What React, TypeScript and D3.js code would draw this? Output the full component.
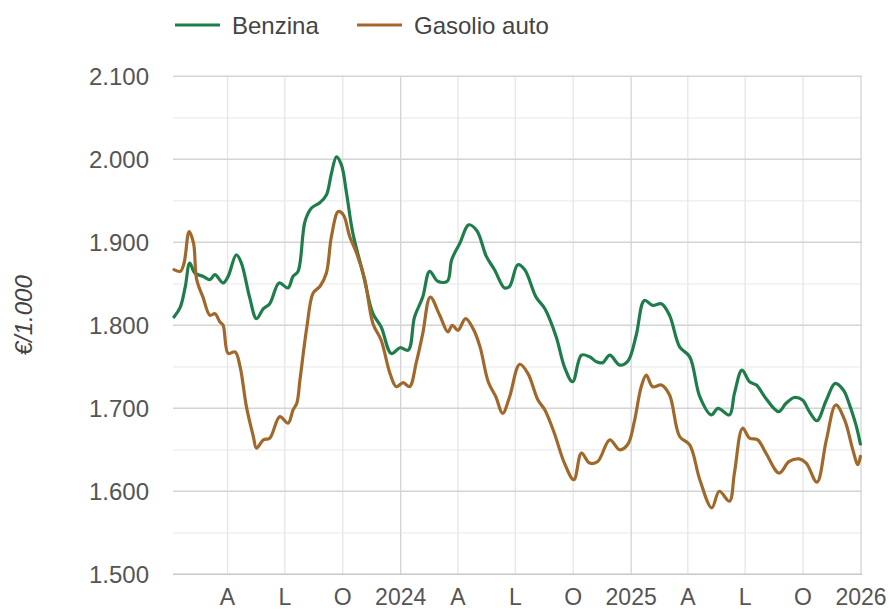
import React from "react";
import * as d3 from "d3";

const benzinaDates = [
  "2023-01-06","2023-01-16","2023-01-24","2023-01-31","2023-02-08","2023-02-21","2023-03-04","2023-03-12","2023-03-25","2023-04-02",
  "2023-04-15","2023-04-23","2023-05-06","2023-05-17","2023-05-28","2023-06-07","2023-06-22","2023-07-06","2023-07-14","2023-07-22",
  "2023-08-02","2023-08-12","2023-08-26","2023-09-05","2023-09-13","2023-09-21","2023-09-29","2023-10-07","2023-10-17","2023-11-02",
  "2023-11-18","2023-12-01","2023-12-17","2023-12-31","2024-01-13","2024-01-23","2024-02-05","2024-02-16","2024-02-29","2024-03-15",
  "2024-03-22","2024-04-04","2024-04-18","2024-05-01","2024-05-16","2024-05-29","2024-06-14","2024-06-22","2024-07-05","2024-07-16",
  "2024-08-03","2024-08-17","2024-09-04","2024-09-17","2024-09-30","2024-10-14","2024-10-27","2024-11-07","2024-11-17","2024-11-28",
  "2024-12-14","2024-12-27","2025-01-09","2025-01-22","2025-02-04","2025-02-18","2025-03-03","2025-03-19","2025-04-04","2025-04-20",
  "2025-05-08","2025-05-19","2025-06-06","2025-06-14","2025-06-26","2025-07-08","2025-07-19","2025-08-01","2025-08-23","2025-09-04",
  "2025-09-17","2025-09-30","2025-10-11","2025-10-23","2025-11-07","2025-11-21","2025-12-04","2025-12-13","2025-12-24","2025-12-31",
];
const benzinaValues = [
  1.810,1.822,1.847,1.875,1.863,1.859,1.855,1.861,1.851,1.859,
  1.885,1.875,1.834,1.808,1.820,1.826,1.851,1.845,1.859,1.865,
  1.925,1.941,1.948,1.957,1.983,2.003,1.993,1.959,1.911,1.863,
  1.814,1.798,1.766,1.773,1.770,1.810,1.834,1.865,1.853,1.853,
  1.879,1.899,1.921,1.914,1.883,1.867,1.845,1.847,1.873,1.867,
  1.834,1.820,1.786,1.750,1.732,1.764,1.762,1.756,1.755,1.764,
  1.752,1.757,1.788,1.830,1.824,1.826,1.812,1.774,1.762,1.714,
  1.692,1.700,1.692,1.718,1.746,1.732,1.728,1.714,1.696,1.706,
  1.713,1.710,1.696,1.685,1.710,1.730,1.722,1.706,1.680,1.657,
];

const gasolioDates = [
  "2023-01-06","2023-01-16","2023-01-22","2023-01-30","2023-02-06","2023-02-11","2023-02-21","2023-03-04","2023-03-12","2023-03-20",
  "2023-03-25","2023-04-02","2023-04-13","2023-04-21","2023-05-01","2023-05-12","2023-05-17","2023-05-28","2023-06-07","2023-06-23",
  "2023-07-06","2023-07-14","2023-07-20","2023-07-25","2023-08-05","2023-08-15","2023-08-26","2023-09-05","2023-09-13","2023-09-24",
  "2023-10-02","2023-10-12","2023-10-23","2023-11-05","2023-11-18","2023-12-01","2023-12-15","2023-12-25","2024-01-05","2024-01-15",
  "2024-01-26","2024-02-05","2024-02-17","2024-03-03","2024-03-16","2024-03-23","2024-04-01","2024-04-13","2024-04-25","2024-05-06",
  "2024-05-19","2024-05-31","2024-06-11","2024-06-22","2024-07-08","2024-07-21","2024-08-06","2024-08-17","2024-09-01","2024-09-17",
  "2024-10-02","2024-10-14","2024-10-27","2024-11-09","2024-11-28","2024-12-14","2024-12-27","2025-01-06","2025-01-17","2025-01-25",
  "2025-02-04","2025-02-18","2025-03-03","2025-03-19","2025-04-04","2025-04-20","2025-05-09","2025-05-21","2025-06-06","2025-06-14",
  "2025-06-27","2025-07-08","2025-07-21","2025-08-03","2025-08-24","2025-09-09","2025-09-25","2025-10-06","2025-10-23","2025-11-07",
  "2025-11-22","2025-12-06","2025-12-19","2025-12-27","2025-12-31",
];
const gasolioValues = [
  1.867,1.865,1.875,1.913,1.899,1.855,1.834,1.812,1.814,1.804,
  1.800,1.766,1.768,1.750,1.702,1.666,1.652,1.662,1.664,1.690,
  1.682,1.698,1.706,1.734,1.798,1.839,1.847,1.863,1.907,1.937,
  1.933,1.907,1.887,1.855,1.802,1.782,1.742,1.726,1.731,1.726,
  1.756,1.790,1.834,1.812,1.792,1.800,1.794,1.808,1.796,1.774,
  1.732,1.714,1.694,1.714,1.753,1.742,1.710,1.698,1.670,1.634,
  1.614,1.646,1.634,1.636,1.662,1.650,1.657,1.684,1.726,1.740,
  1.726,1.728,1.716,1.666,1.656,1.614,1.580,1.600,1.588,1.622,
  1.676,1.664,1.662,1.646,1.622,1.636,1.639,1.634,1.611,1.662,
  1.704,1.686,1.650,1.632,1.642,
];

const seriesNames = ["Benzina", "Gasolio auto"];
const seriesColors = ["#1f7d4b", "#a0692b"];
const yTicks = [1.5, 1.6, 1.7, 1.8, 1.9, 2.0, 2.1];
const yMinorTicks = [1.55, 1.65, 1.75, 1.85, 1.95, 2.05];
const monthLetters: Record<number, string> = { 3: "A", 6: "L", 9: "O" };
const yAxisTitle = "€/1.000";
const domainStart = "2023-01-06";
const domainEnd = "2026-01-01";

const W = 889;
const H = 611;
const left = 174;
const right = 861;
const top = 76.3;
const bottom = 574.3;
const FONT = "Arial, 'Liberation Sans', sans-serif";

export default function App() {
  const parse = d3.utcParse("%Y-%m-%d");
  const x = d3.scaleUtc().domain([parse(domainStart)!, parse(domainEnd)!]).range([left, right]);
  const y = d3.scaleLinear().domain([1.5, 2.1]).range([bottom, top]);
  const fmt = d3.format(".3f");

  const series = [
    benzinaDates.map((d, i) => ({ date: parse(d)!, value: benzinaValues[i] })),
    gasolioDates.map((d, i) => ({ date: parse(d)!, value: gasolioValues[i] })),
  ];
  const line = d3
    .line<{ date: Date; value: number }>()
    .x((d) => x(d.date))
    .y((d) => y(d.value))
    .curve(d3.curveCatmullRom.alpha(0.5));

  const xTicks = x.ticks(d3.utcMonth.every(3)!).filter((t) => x(t) >= left - 0.5 && x(t) <= right + 0.5);
  const xLabel = (t: Date) => (t.getUTCMonth() === 0 ? String(t.getUTCFullYear()) : monthLetters[t.getUTCMonth()] || "");

  return (
    <div style={{ position: "absolute", left: 0, top: 0 }}>
      <svg width={W} height={H} style={{ display: "block", background: "#fff" }}>
        {yMinorTicks.map((v) => (
          <line key={"m" + v} x1={left - 1} x2={right + 1} y1={y(v)} y2={y(v)} stroke="#ececec" strokeWidth={1.3} />
        ))}
        {xTicks.map((t) => (
          <line
            key={"v" + t.getTime()}
            x1={x(t)}
            x2={x(t)}
            y1={top}
            y2={bottom}
            stroke={t.getUTCMonth() === 0 ? "#d4d4d4" : "#e6e6e6"}
            strokeWidth={1.3}
          />
        ))}
        {yTicks.map((v) => (
          <line
            key={"M" + v}
            x1={left - 1}
            x2={right + 1}
            y1={y(v)}
            y2={y(v)}
            stroke={v === 1.5 ? "#c8c8c8" : "#d4d4d4"}
            strokeWidth={1.5}
          />
        ))}
        {yTicks.map((v) => (
          <text
            key={"yl" + v}
            x={149}
            y={y(v)}
            dy="0.36em"
            textAnchor="end"
            fontFamily={FONT}
            fontSize={24}
            fill="#555"
          >
            {fmt(v)}
          </text>
        ))}
        {xTicks.map((t) => (
          <text
            key={"xl" + t.getTime()}
            x={x(t)}
            y={605}
            textAnchor="middle"
            fontFamily={FONT}
            fontSize={23}
            fill="#555"
          >
            {xLabel(t)}
          </text>
        ))}
        <text
          transform={`translate(32,${(top + bottom) / 2 - 10}) rotate(-90)`}
          textAnchor="middle"
          fontFamily={FONT}
          fontSize={24}
          fontStyle="italic"
          fill="#444"
        >
          {yAxisTitle}
        </text>
        {series.map((s, i) => (
          <path
            key={"s" + i}
            d={line(s) || ""}
            fill="none"
            stroke={seriesColors[i]}
            strokeWidth={3.2}
            strokeLinejoin="round"
            strokeLinecap="round"
          />
        ))}
        {seriesNames.map((n, i) => {
          const lx = i === 0 ? 175 : 357;
          return (
            <g key={"lg" + i}>
              <line x1={lx} x2={lx + 45} y1={25} y2={25} stroke={seriesColors[i]} strokeWidth={3.2} />
              <text x={lx + 57} y={25} dy="0.36em" fontFamily={FONT} fontSize={24} fill="#444">
                {n}
              </text>
            </g>
          );
        })}
      </svg>
    </div>
  );
}
